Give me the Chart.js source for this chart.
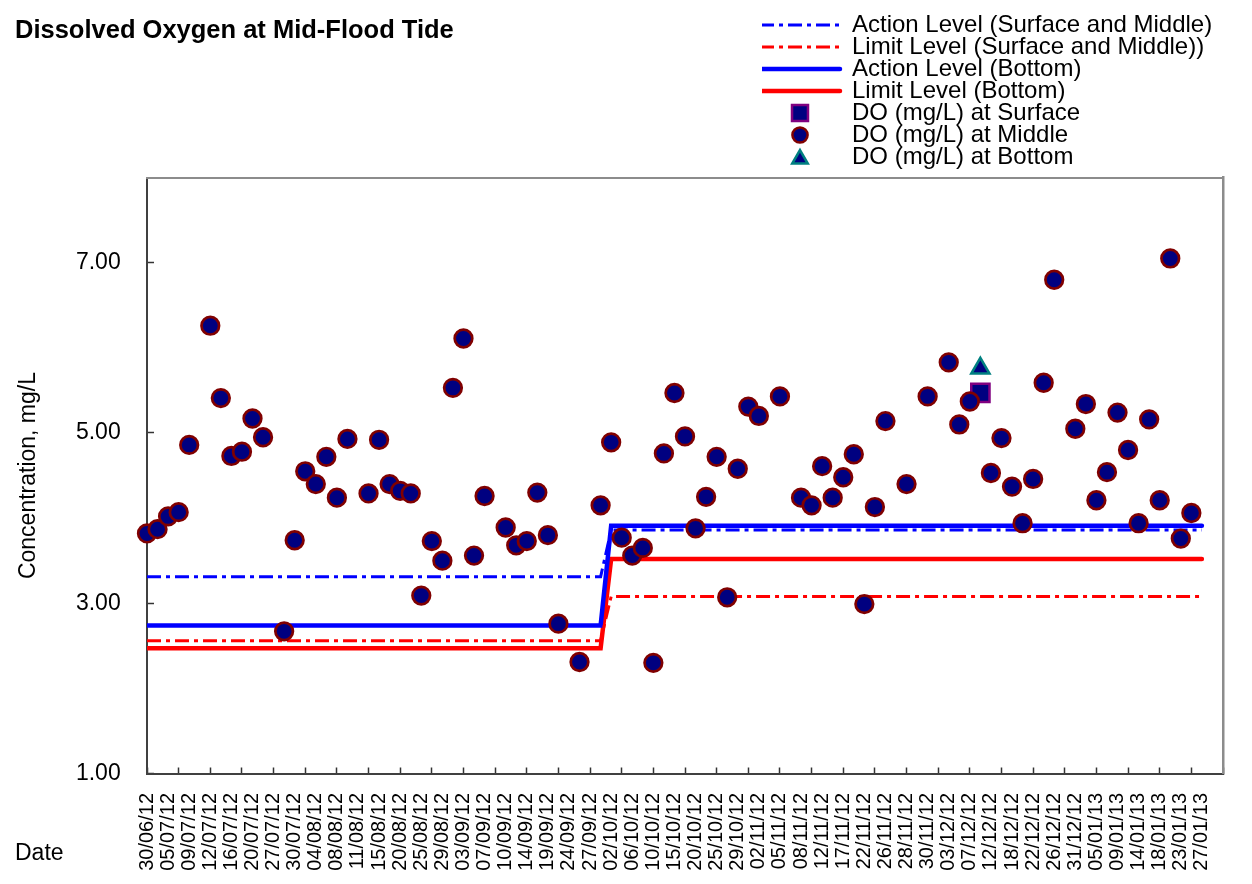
<!DOCTYPE html>
<html>
<head>
<meta charset="utf-8">
<title>Dissolved Oxygen at Mid-Flood Tide</title>
<script src="https://cdn.jsdelivr.net/npm/chart.js@4.4.1/dist/chart.umd.min.js"></script>
<style>
  html, body { margin: 0; padding: 0; background: #fff; }
  #wrap { width: 1252px; height: 884px; }
</style>
</head>
<body>
<div id="wrap"><canvas id="doChart" width="1252" height="884"></canvas></div>
<script>
// ===============================
// DO at mid-flood tide - scatter of DO readings with action / limit levels
// x axis = sampling occasions (category index), every 2nd one labelled
// ===============================

// Axis labels (every 2nd category carries a date)
const dateLabels = [
  "30/06/12", "05/07/12", "09/07/12", "12/07/12", "16/07/12", "20/07/12", "27/07/12", "30/07/12",
  "04/08/12", "08/08/12", "11/08/12", "15/08/12", "20/08/12", "25/08/12", "29/08/12", "03/09/12",
  "07/09/12", "10/09/12", "14/09/12", "19/09/12", "24/09/12", "27/09/12", "02/10/12", "06/10/12",
  "10/10/12", "15/10/12", "20/10/12", "25/10/12", "29/10/12", "02/11/12", "05/11/12", "08/11/12",
  "12/11/12", "17/11/12", "22/11/12", "26/11/12", "28/11/12", "30/11/12", "03/12/12", "07/12/12",
  "12/12/12", "18/12/12", "22/12/12", "26/12/12", "31/12/12", "05/01/13", "09/01/13", "14/01/13",
  "18/01/13", "23/01/13", "27/01/13"
];
const CATEGORY_MAX = 102; // two blank rows after 27/01/13

// DO (mg/L) at middle depth, one value per category (null = no reading)
const middleDO = [
  3.82, 3.87, 4.02, 4.07, 4.86, null, 6.26, 5.41, 4.73, 4.78,
  5.17, 4.95, null, 2.67, 3.74, 4.55, 4.40, 4.72, 4.24, 4.93,
  null, 4.29, 4.92, 4.40, 4.32, 4.29, 3.09, 3.73, 3.50, 5.53,
  6.11, 3.56, 4.26, null, 3.89, 3.68, 3.73, 4.30, 3.80, 2.76,
  null, 2.31, null, 4.15, 4.89, 3.77, 3.56, 3.65, 2.30, 4.76,
  5.47, 4.96, 3.88, 4.25, 4.72, 3.07, 4.58, 5.31, 5.20, null,
  5.43, null, 4.24, 4.15, 4.61, 4.24, 4.48, 4.75, 2.99, 4.13,
  5.14, null, 4.40, null, 5.43, null, 5.83, 5.10, 5.37, null,
  4.53, 4.94, 4.37, 3.94, 4.46, 5.59, 6.80, null, 5.05, 5.34,
  4.21, 4.54, 5.24, 4.80, 3.94, 5.16, 4.21, 7.05, 3.76, 4.06
];

// Surface and bottom readings (only one occasion each)
const surfaceX = [79];
const surfaceDO = [5.47];
const bottomX = [79];
const bottomDO = [5.76];

// Action / limit levels (change on 02/10/12)
const levelX = [0, 43, 44, 100];
const actionSurfMid = [3.31, 3.31, 3.86, 3.86];
const limitSurfMid = [2.56, 2.56, 3.08, 3.08];
const actionBottom = [2.74, 2.74, 3.91, 3.91];
const limitBottom = [2.47, 2.47, 3.52, 3.52];

// y axis
const yTicks = [1, 3, 5, 7];
const Y_MIN = 1, Y_MAX = 8;

const FONT = "'Liberation Sans', Arial, Helvetica, sans-serif";
const NAVY = "#000080";

Chart.defaults.font.family = FONT;
Chart.defaults.color = "#000";

const toPoints = (xs, ys) => xs.map((x, i) => ({ x: x, y: ys[i] }));
const middlePoints = middleDO
  .map((y, x) => ({ x: x, y: y }))
  .filter(p => p.y !== null);
const categoryIndex = Array.from({ length: CATEGORY_MAX + 1 }, (_, i) => i);

// Legend marker for the point series, drawn with Chart.js' own point helper
function markerImage(pointStyle, radius, borderColor, dy) {
  const c = document.createElement("canvas");
  c.width = 30; c.height = 30;
  const g = c.getContext("2d");
  g.fillStyle = NAVY;
  g.strokeStyle = borderColor;
  g.lineWidth = 2.5;
  if (Chart.helpers && Chart.helpers.drawPoint) {
    Chart.helpers.drawPoint(g, { pointStyle, radius, borderWidth: 2.5, rotation: 0 }, 15, 15 + (dy || 0));
  }
  return c;
}

function levelLine(label, values, color, width, dash) {
  return {
    label: label,
    data: toPoints(levelX, values),
    showLine: true,
    borderColor: color,
    backgroundColor: color,
    borderWidth: width,
    borderDash: dash,
    borderCapStyle: dash.length ? "butt" : "round",
    pointRadius: 0,
    pointHoverRadius: 0,
    order: 4
  };
}

const DASH_DOT = [14, 5, 4, 5];

const datasets = [
  levelLine("Action Level (Surface and Middle)", actionSurfMid, "#0000FF", 3, DASH_DOT),
  levelLine("Limit Level (Surface and Middle))", limitSurfMid, "#FF0000", 3, DASH_DOT),
  levelLine("Action Level (Bottom)", actionBottom, "#0000FF", 4.5, []),
  levelLine("Limit Level (Bottom)", limitBottom, "#FF0000", 4.5, []),
  {
    label: "DO (mg/L) at Surface",
    data: toPoints(surfaceX, surfaceDO),
    pointStyle: "rect",
    pointRadius: 12.9,
    pointHoverRadius: 12.9,
    pointBorderWidth: 2.5,
    pointBackgroundColor: NAVY,
    pointBorderColor: "#800080",
    borderColor: "#800080",
    backgroundColor: NAVY,
    legendMarker: markerImage("rect", 11.3, "#800080"),
    clip: false,
    order: 3
  },
  {
    label: "DO (mg/L) at Middle",
    data: middlePoints,
    pointStyle: "circle",
    pointRadius: 8.8,
    pointHoverRadius: 8.8,
    pointBorderWidth: 2.7,
    pointBackgroundColor: NAVY,
    pointBorderColor: "#800000",
    borderColor: "#800000",
    backgroundColor: NAVY,
    legendMarker: markerImage("circle", 7.6, "#800000"),
    clip: false,
    order: 2
  },
  {
    label: "DO (mg/L) at Bottom",
    data: toPoints(bottomX, bottomDO),
    pointStyle: "triangle",
    pointRadius: 10.5,
    pointHoverRadius: 10.5,
    pointBorderWidth: 2.5,
    pointBackgroundColor: NAVY,
    pointBorderColor: "#008080",
    borderColor: "#008080",
    backgroundColor: NAVY,
    legendMarker: markerImage("triangle", 9, "#008080", 2),
    clip: false,
    order: 1
  }
];

// Legend sits as a single column in the top-right corner
const LEGEND_LEFT = 762, LEGEND_TOP = 15, LEGEND_SPACE = 131.8, LEGEND_BOTTOM = 176;
const legendColumn = {
  id: "legendColumn",
  beforeLayout(chart) {
    const lg = chart.legend;
    if (!lg || lg.columnFit) return;
    const baseFit = lg.fit;
    lg.fit = function () {
      const fullWidth = this.maxWidth;
      this.maxWidth = 1; // one item per row
      baseFit.call(this);
      this.maxWidth = fullWidth;
      this.width = fullWidth;
      this.height = LEGEND_SPACE;
    };
    lg.columnFit = true;
  },
  afterLayout(chart) {
    const lg = chart.legend;
    lg.left = LEGEND_LEFT;
    lg.right = chart.width;
    lg.width = lg.right - lg.left;
    lg.top = LEGEND_TOP;
    lg.bottom = LEGEND_BOTTOM;
    lg.height = LEGEND_BOTTOM - LEGEND_TOP;
  }
};

const X_AXIS_HEIGHT = 110.5;
const Y_AXIS_WIDTH = 132;

new Chart(document.getElementById("doChart"), {
  type: "scatter",
  data: { datasets },
  plugins: [legendColumn],
  options: {
    responsive: false,
    animation: false,
    events: [],
    layout: { padding: { left: 15, right: 29, top: 0, bottom: 0 } },
    plugins: {
      tooltip: { enabled: false },
      title: {
        display: true,
        text: "Dissolved Oxygen at Mid-Flood Tide",
        align: "start",
        color: "#000",
        font: { size: 25.5, weight: "bold", family: FONT },
        padding: { top: 15.2, bottom: 0 }
      },
      subtitle: {
        // "Date" sits inside the x axis band, so its box takes no height
        display: true,
        text: "Date",
        position: "bottom",
        align: "start",
        color: "#000",
        font: { size: 23, weight: "normal", family: FONT },
        padding: { top: -44.6, bottom: 17 }
      },
      legend: {
        display: true,
        position: "top",
        align: "start",
        labels: {
          usePointStyle: true,
          pointStyleWidth: 80,
          boxHeight: 20,
          padding: -2,
          color: "#000",
          font: { size: 24, family: FONT },
          generateLabels: chart => chart.data.datasets.map((ds, i) => ({
            text: ds.label,
            datasetIndex: i,
            hidden: false,
            fontColor: "#000",
            strokeStyle: ds.borderColor,
            fillStyle: ds.borderColor,
            lineWidth: ds.showLine ? ds.borderWidth : 0,
            lineDash: ds.borderDash || [],
            lineCap: ds.borderCapStyle || "butt",
            pointStyle: ds.showLine ? "line" : ds.legendMarker,
            rotation: 0
          }))
        }
      }
    },
    scales: {
      x: {
        type: "linear",
        position: "bottom",
        min: 0,
        max: CATEGORY_MAX,
        afterBuildTicks: scale => { scale.ticks = categoryIndex.map(value => ({ value })); },
        afterFit: scale => { scale.height = X_AXIS_HEIGHT; scale.paddingLeft = 0; scale.paddingRight = 0; },
        ticks: {
          autoSkip: false,
          minRotation: 90,
          maxRotation: 90,
          padding: 25.5,
          color: "#000",
          font: { size: 20, family: FONT },
          callback: value => (value % 2 === 0 && dateLabels[value / 2]) ? dateLabels[value / 2] : ""
        },
        grid: {
          drawOnChartArea: false,
          tickLength: -6,
          tickWidth: 1.5,
          tickColor: ctx => (ctx.index % 3 === 0 ? "#333" : "rgba(0,0,0,0)")
        },
        border: { display: true, color: "#404040", width: 2 }
      },
      y: {
        type: "linear",
        position: "left",
        min: Y_MIN,
        max: Y_MAX,
        afterBuildTicks: scale => { scale.ticks = yTicks.map(value => ({ value })); },
        afterFit: scale => { scale.width = Y_AXIS_WIDTH; scale.paddingTop = 0; scale.paddingBottom = 0; },
        ticks: {
          padding: 33.3,
          color: "#000",
          font: { size: 23, family: FONT },
          callback: v => Number(v).toFixed(2)
        },
        grid: {
          drawOnChartArea: false,
          tickLength: -7,
          tickWidth: 1.5,
          tickColor: "#333"
        },
        border: { display: true, color: "#404040", width: 2 },
        title: {
          display: true,
          text: "Concentration, mg/L",
          color: "#000",
          font: { size: 23, family: FONT },
          padding: { top: 0, bottom: 0 }
        }
      },
      x2: {
        type: "linear",
        position: "top",
        min: 0,
        max: CATEGORY_MAX,
        ticks: { display: false },
        grid: { display: false, drawTicks: false },
        afterFit: scale => { scale.height = 0; scale.paddingLeft = 0; scale.paddingRight = 0; },
        border: { display: true, color: "#8c8c8c", width: 2 }
      },
      y2: {
        type: "linear",
        position: "right",
        min: Y_MIN,
        max: Y_MAX,
        ticks: { display: false },
        grid: { display: false, drawTicks: false },
        afterFit: scale => { scale.width = 0; scale.paddingTop = 0; scale.paddingBottom = 0; },
        border: { display: true, color: "#8c8c8c", width: 2.5 }
      }
    }
  }
});
</script>
</body>
</html>
